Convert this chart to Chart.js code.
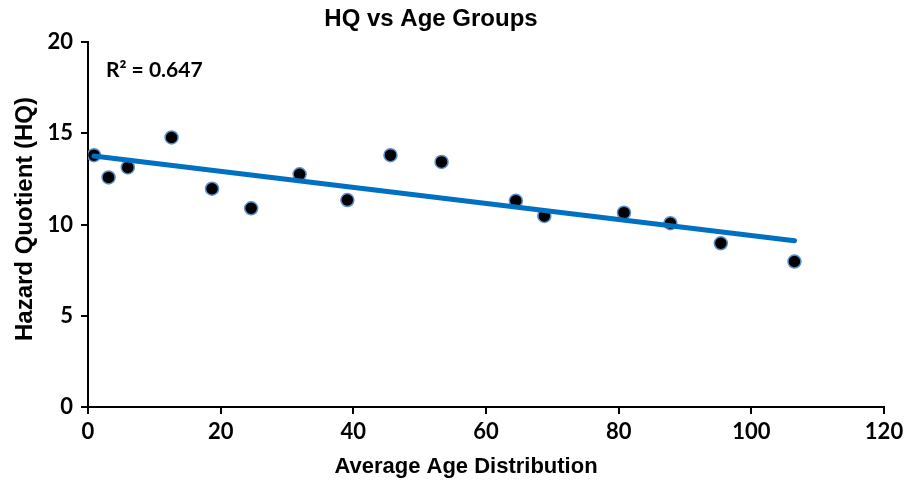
<!DOCTYPE html>
<html>
<head>
<meta charset="utf-8">
<script src="https://cdn.jsdelivr.net/npm/chart.js@4.4.1/dist/chart.umd.min.js"></script>
<style>
  body { margin: 0; background: #fff; }
</style>
</head>
<body>
<canvas id="hqChart" width="918" height="483"></canvas>
<script>
// Data
const ageX = [0.9, 3.1, 6.0, 12.6, 18.7, 24.6, 31.9, 39.1, 45.6, 53.3, 64.5, 68.8, 80.8, 87.8, 95.4, 106.5];
const hqY = [13.8, 12.58, 13.13, 14.77, 11.96, 10.89, 12.75, 11.34, 13.8, 13.43, 11.3, 10.47, 10.65, 10.07, 8.97, 7.97];
// Linear trendline end points
const trendX = [0.9, 106.5];
const trendY = [13.75, 9.11];
const xTicks = [0, 20, 40, 60, 80, 100, 120];
const yTicks = [0, 5, 10, 15, 20];
const chartTitle = 'HQ vs Age Groups';
const xTitle = 'Average Age Distribution';
const yTitle = 'Hazard Quotient (HQ)';
const r2Label = 'R² = 0.647';

const tickFont = { family: 'Lato, "Open Sans", sans-serif', size: 22, weight: 'bold' };
const titleFamily = '"Liberation Sans", Arial, sans-serif';

// Titles and R² text drawn by hand (Excel-style placement)
const textPlugin = {
    id: 'texts',
    afterDraw(chart) {
        const ctx = chart.ctx;
        ctx.save();
        ctx.fillStyle = '#000';
        ctx.textBaseline = 'middle';
        ctx.textAlign = 'center';
        ctx.font = 'bold 24px ' + titleFamily;
        ctx.fillText(chartTitle, 431, 19);
        ctx.font = 'bold 22px ' + titleFamily;
        ctx.fillText(xTitle, 466, 467);
        ctx.save();
        ctx.translate(25, 219);
        ctx.rotate(-Math.PI / 2);
        ctx.font = 'bold 24px ' + titleFamily;
        ctx.fillText(yTitle, 0, 0);
        ctx.restore();
        ctx.textAlign = 'left';
        ctx.font = 'bold 21px Lato, "Open Sans", sans-serif';
        ctx.fillText(r2Label, 106, 70);
        ctx.restore();
    }
};

const ctx = document.getElementById('hqChart').getContext('2d');
new Chart(ctx, {
    type: 'scatter',
    data: {
        datasets: [{
            label: 'Trend',
            data: trendX.map((x, i) => ({ x: x, y: trendY[i] })),
            showLine: true,
            borderColor: '#0070C0',
            borderWidth: 5,
            borderCapStyle: 'round',
            pointRadius: 0,
            order: 0
        }, {
            label: 'HQ',
            data: ageX.map((x, i) => ({ x: x, y: hqY[i] })),
            backgroundColor: '#000',
            borderColor: '#5B8FD0',
            borderWidth: 1.5,
            pointRadius: 6.5,
            order: 1
        }]
    },
    options: {
        responsive: false,
        animation: false,
        layout: { padding: { left: 0, right: 34, top: 42, bottom: 0 } },
        plugins: {
            legend: { display: false },
            tooltip: { enabled: false }
        },
        scales: {
            x: {
                type: 'linear',
                min: 0,
                max: 120,
                afterBuildTicks: (s) => { s.ticks = xTicks.map(v => ({ value: v })); },
                afterFit: (s) => { s.height = 76; },
                ticks: { font: tickFont, color: '#000', padding: 5 },
                grid: { drawOnChartArea: false, drawTicks: true, tickLength: 7, color: '#000', lineWidth: 2 },
                border: { display: true, color: '#000', width: 2 }
            },
            y: {
                type: 'linear',
                min: 0,
                max: 20,
                afterBuildTicks: (s) => { s.ticks = yTicks.map(v => ({ value: v })); },
                afterFit: (s) => { s.width = 88; },
                ticks: { font: tickFont, color: '#000', padding: 8 },
                grid: { drawOnChartArea: false, drawTicks: true, tickLength: 7, color: '#000', lineWidth: 2 },
                border: { display: true, color: '#000', width: 2 }
            }
        }
    },
    plugins: [textPlugin]
});
</script>
</body>
</html>
